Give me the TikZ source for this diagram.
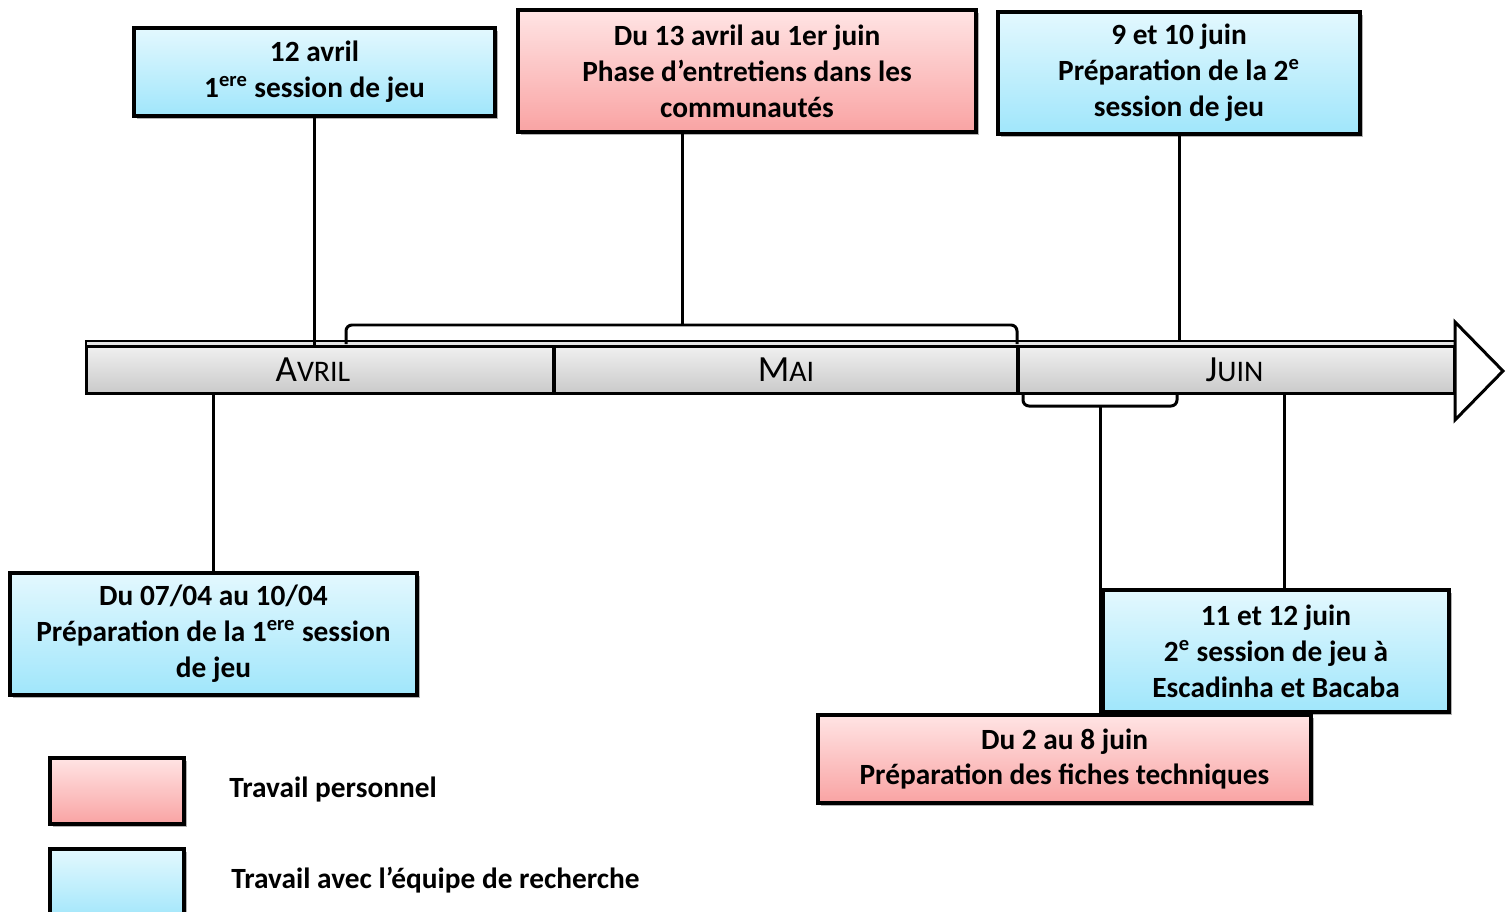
\documentclass[tikz,border=0pt]{standalone}
\usepackage{fontspec}
\setmainfont{Carlito}
\usetikzlibrary{shadows}
\definecolor{rosehaut}{HTML}{FFE4E4}
\definecolor{rosebas}{HTML}{F9A3A3}
\definecolor{bleuhaut}{HTML}{E3F8FE}
\definecolor{bleubas}{HTML}{A0E6FB}
\newcommand\moisnom[2]{{\fontsize{21}{21}\selectfont #1}#2}

\begin{document}
\begin{tikzpicture}[x=0.02cm,y=-0.02cm,
 font=\fontsize{16.7}{20.4}\selectfont\bfseries,
 boite/.style={draw,line width=\mylw,align=center,inner sep=0pt,
  drop shadow={shadow xshift=0.06cm,shadow yshift=-0.06cm,opacity=0.3,fill=black}},
 perso/.style={boite,top color=rosehaut,bottom color=rosebas},
 equipe/.style={boite,top color=bleuhaut,bottom color=bleubas},
 mois/.style={draw,line width=0.06cm,top color=gray!12,bottom color=gray!42,
  inner sep=0pt,minimum height=0.96cm,font=\fontsize{17}{20}\selectfont\mdseries},
 trait/.style={line width=0.06cm},
 ]
 \def\mylw{0.08cm}
 \clip (0,0) rectangle (1508,912);
 % frise
 \draw[line width=0.03cm,fill=gray!20] (86,341) rectangle (1455,350);
 \node[mois,minimum width=9.36cm,text depth=-0.1cm] (avril) at (320,370) {\hspace*{-0.28cm}\moisnom{A}{VRIL}};
 \node[mois,minimum width=9.28cm,text depth=-0.1cm] (mai) at (786,370) {\moisnom{M}{AI}};
 \node[mois,minimum width=8.74cm,text depth=-0.1cm] (juin) at (1236.5,370) {\hspace*{-0.08cm}\moisnom{J}{UIN}};
 \draw[line width=0.06cm,fill=white] (1455,322) -- (1503,371) -- (1455,420) -- cycle;
 % accolades
 \coordinate (acc1) at (682,325);
 \coordinate (acc1g) at (346,344);
 \coordinate (acc1d) at (1017,344);
 \draw[trait,rounded corners=0.12cm] (acc1g) -- (acc1g |- acc1) -- (acc1d |- acc1) -- (acc1d);
 \coordinate (acc2) at (1100,406);
 \coordinate (acc2g) at (1023,394);
 \coordinate (acc2d) at (1177,394);
 \draw[trait,rounded corners=0.12cm] (acc2g) -- (acc2g |- acc2) -- (acc2d |- acc2) -- (acc2d);
 \coordinate (t11) at (1284,394);
 % boites
 \node[equipe,minimum width=7.22cm,minimum height=1.76cm] (b12avril) at (314.5,72)
  {12 avril\\1\textsuperscript{ere} session de jeu};
 \node[perso,minimum width=9.16cm,minimum height=2.44cm] (bentretiens) at (747,71)
  {Du 13 avril au 1er juin\\Phase d’entretiens dans les\\communautés};
 \node[equipe,minimum width=7.24cm,minimum height=2.44cm] (b9juin) at (1179,73)
  {9 et 10 juin\\Préparation de la 2\textsuperscript{e}\\session de jeu};
 \node[equipe,minimum width=8.14cm,minimum height=2.44cm] (b0704) at (213.5,634)
  {Du 07/04 au 10/04\\Préparation de la 1\textsuperscript{ere} session\\de jeu};
 \draw[trait] (b12avril.south) -- (b12avril.south |- avril.north);
 \draw[trait] (acc1 |- bentretiens.south) -- (acc1);
 \draw[trait,shorten >=0.08cm] (b9juin.south) -- (b9juin.south |- juin.north);
 \draw[trait] (b0704.north) -- (b0704.north |- avril.south);
 \draw[trait] (t11) -- (t11 |- 0,590);
 \draw[trait] (acc2) -- (acc2 |- 0,714);
 \node[equipe,minimum width=6.92cm,minimum height=2.44cm] (b11juin) at (1276,651)
  {11 et 12 juin\\2\textsuperscript{e} session de jeu à\\Escadinha et Bacaba};
 \node[perso,minimum width=9.86cm,minimum height=1.76cm] (b2juin) at (1064.5,759)
  {Du 2 au 8 juin\\Préparation des fiches techniques};
 % legende
 \node[perso,minimum width=2.68cm,minimum height=1.32cm] (lperso) at (117,791) {};
 \node[equipe,minimum width=2.68cm,minimum height=1.44cm] (lequipe) at (117,885) {};
 \node[anchor=west,inner sep=0pt] (tperso) at (229,790) {Travail personnel};
 \node[anchor=west,inner sep=0pt] (tequipe) at (231,880) {Travail avec l’équipe de recherche};
\end{tikzpicture}
\end{document}
